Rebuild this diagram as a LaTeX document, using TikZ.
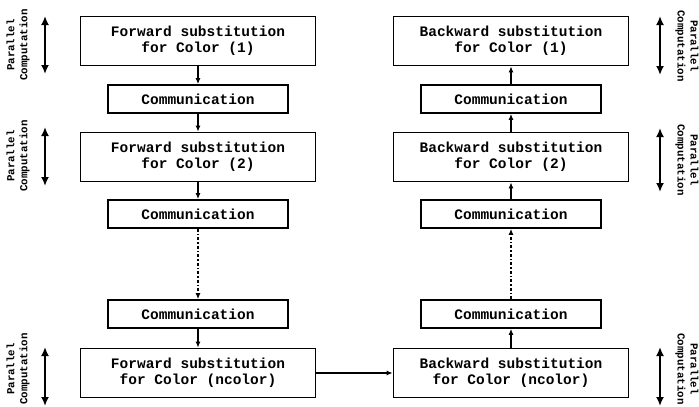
\documentclass[tikz,border=0pt]{standalone}
\usepackage{fontspec}
\setmonofont{Liberation Mono}
\usetikzlibrary{arrows.meta}
\begin{document}
\begin{tikzpicture}[x=1pt,y=-1pt,
  bigbox/.style={draw,line width=1.7pt,minimum width=235pt,minimum height=49pt,inner sep=0pt,align=center,
    font=\ttfamily\bfseries\fontsize{14.5}{16}\selectfont},
  commbox/.style={draw,line width=1.7pt,minimum width=180pt,minimum height=28pt,inner sep=0pt,
    font=\ttfamily\bfseries\fontsize{14.5}{16}\selectfont},
  flow/.style={line width=1.6pt,-{Latex[length=6pt,width=5pt]}},
  dotflow/.style={flow,dash pattern=on 3pt off 2pt on 1.5pt off 2pt},
  pararrow/.style={line width=2.4pt,{Latex[length=9pt,width=8pt]}-{Latex[length=9pt,width=8pt]}},
  partext/.style={align=center,inner sep=0pt,font=\ttfamily\bfseries\fontsize{10.8}{13}\selectfont}]
\useasboundingbox (0,0) rectangle (699,407);
% left column
\node[bigbox] (f1) at (198,41) {Forward substitution\\ for Color (1)};
\node[commbox] (c1) at (198,99) {Communication};
\node[bigbox] (f2) at (198,157) {Forward substitution\\ for Color (2)};
\node[commbox] (c2) at (198,214) {Communication};
\node[commbox] (c3) at (198,314) {Communication};
\node[bigbox] (fn) at (198,373) {Forward substitution\\ for Color (ncolor)};
% right column
\node[bigbox] (b1) at (511,41) {Backward substitution\\ for Color (1)};
\node[commbox] (bc1) at (511,99) {Communication};
\node[bigbox] (b2) at (511,157) {Backward substitution\\ for Color (2)};
\node[commbox] (bc2) at (511,214) {Communication};
\node[commbox] (bc3) at (511,314) {Communication};
\node[bigbox] (bn) at (511,373) {Backward substitution\\ for Color (ncolor)};
% flow
\draw[flow] (f1) -- (c1);
\draw[flow] (c1) -- (f2);
\draw[flow] (f2) -- (c2);
\draw[dotflow] (c2) -- (c3);
\draw[flow] (c3) -- (fn);
\draw[flow] (fn) -- (bn);
\draw[flow] (bn) -- (bc3);
\draw[dotflow] (bc3) -- (bc2);
\draw[flow] (bc2) -- (b2);
\draw[flow] (b2) -- (bc1);
\draw[flow] (bc1) -- (b1);
% parallel computation markers, left
\coordinate (la1) at (45,16); \coordinate (lb1) at (45,74);
\coordinate (la2) at (45,127); \coordinate (lb2) at (45,186);
\coordinate (la3) at (45,347); \coordinate (lb3) at (45,406);
\draw[pararrow] (la1) -- (lb1);
\draw[pararrow] (la2) -- (lb2);
\draw[pararrow] (la3) -- (lb3);
\node[partext,rotate=90] (lt1) at (18,45) {Parallel\\Computation};
\node[partext,rotate=90] (lt2) at (18,156) {Parallel\\Computation};
\node[partext,rotate=90] (lt3) at (18,369) {Parallel\\Computation};
% right
\coordinate (ra1) at (660,16); \coordinate (rb1) at (660,75);
\coordinate (ra2) at (660,128); \coordinate (rb2) at (660,192);
\coordinate (ra3) at (660,347); \coordinate (rb3) at (660,406);
\draw[pararrow] (ra1) -- (rb1);
\draw[pararrow] (ra2) -- (rb2);
\draw[pararrow] (ra3) -- (rb3);
\node[partext,rotate=-90] (rt1) at (687,46) {Parallel\\Computation};
\node[partext,rotate=-90] (rt2) at (687,160) {Parallel\\Computation};
\node[partext,rotate=-90] (rt3) at (687,369) {Parallel\\Computation};
\end{tikzpicture}
\end{document}
